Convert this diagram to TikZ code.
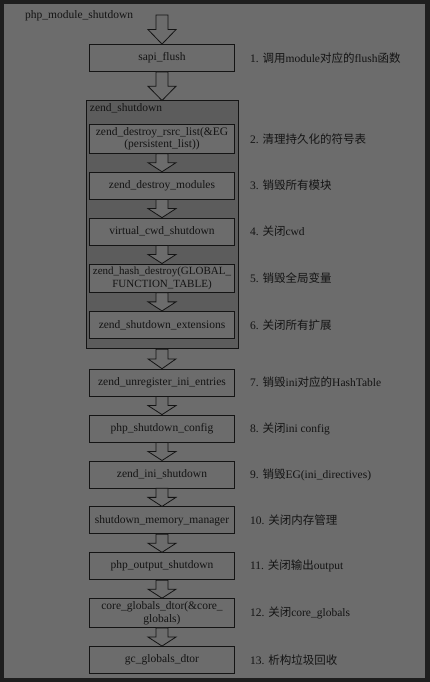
\documentclass[tikz,border=0pt]{standalone}
\usepackage{fontspec}
\setmainfont{Liberation Serif}
\newfontfamily\cjk{Noto Sans CJK SC}
\usetikzlibrary{positioning, calc, backgrounds, fit}
\definecolor{frameDark}{HTML}{1E1E1E}
\definecolor{panelGray}{HTML}{6C6C6C}
\definecolor{groupGray}{HTML}{5C5C5C}
\definecolor{inkDark}{HTML}{141414}
\tikzstyle{callbox} = [rectangle, minimum width=145pt, minimum height=27pt, inner ysep=3pt, inner xsep=1pt, align=center, draw=inkDark, line width=0.8pt, fill=panelGray, text=inkDark, font=\fontsize{11.5}{12.5}\selectfont]
\tikzstyle{note} = [anchor=west, inner sep=0pt, text=inkDark, font=\fontsize{11.5}{13}\selectfont]
\tikzstyle{group} = [rectangle, draw=inkDark, line width=0.8pt, fill=groupGray, inner sep=0pt]
\tikzstyle{hollow} = [draw=inkDark, line width=0.8pt, fill=panelGray, line join=miter]
\newcommand{\flowarrow}[2]{%
  \draw[hollow] let \p1=(#1), \p2=(#2), \p3=($(\p1)!0.5!(\p2)$) in
    (\x1-6pt,\y1) -- (\x1+6pt,\y1) -- (\x1+6pt,\y3) -- (\x1+14pt,\y3)
    -- (\x1,\y2) -- (\x1-14pt,\y3) -- (\x1-6pt,\y3) -- cycle;}

\begin{document}
\begin{tikzpicture}[x=1pt, y=-1pt, node distance=18.1pt]

% panel
\begin{scope}[on background layer]
\fill[frameDark] (0,0) rectangle (430,682);
\fill[panelGray] (4,4) rectangle (425,678);
\end{scope}

\node (title) [note] at (25,16) {php\_module\_shutdown};
\coordinate (start) at (162,15);

\node (box1) [callbox] at (162,58) {sapi\_flush};
\node (box2) [callbox, below=52pt of box1] {zend\_destroy\_rsrc\_list(\&EG\\(persistent\_list))};
\node (box3) [callbox, below=of box2] {zend\_destroy\_modules};
\node (box4) [callbox, below=of box3] {virtual\_cwd\_shutdown};
\node (box5) [callbox, below=of box4, font=\fontsize{11}{12.5}\selectfont] {zend\_hash\_destroy(GLOBAL\_\\FUNCTION\_TABLE)};
\node (box6) [callbox, below=of box5] {zend\_shutdown\_extensions};
\node (box7) [callbox, below=30pt of box6] {zend\_unregister\_ini\_entries};
\node (box8) [callbox, below=of box7] {php\_shutdown\_config};
\node (box9) [callbox, below=of box8] {zend\_ini\_shutdown};
\node (box10) [callbox, below=of box9] {shutdown\_memory\_manager};
\node (box11) [callbox, below=of box10] {php\_output\_shutdown};
\node (box12) [callbox, below=of box11] {core\_globals\_dtor(\&core\_\\globals)};
\node (box13) [callbox, below=of box12] {gc\_globals\_dtor};

% zend_shutdown group
\begin{scope}[on background layer]
\node (zendgroup) [group, fit={($(box2.north west)+(-3pt,23pt)$) ($(box6.south east)+(3pt,-10pt)$)}] {};
\end{scope}
\node (grouplabel) [note, anchor=north west] at ($(zendgroup.north west)+(4pt,-3pt)$) {zend\_shutdown};

\node (note1) [note, right=15pt of box1] {1. {\cjk 调用}module{\cjk 对应的}flush{\cjk 函数}};
\node (note2) [note, right=15pt of box2] {2. {\cjk 清理持久化的符号表}};
\node (note3) [note, right=15pt of box3] {3. {\cjk 销毁所有模块}};
\node (note4) [note, right=15pt of box4] {4. {\cjk 关闭}cwd};
\node (note5) [note, right=15pt of box5] {5. {\cjk 销毁全局变量}};
\node (note6) [note, right=15pt of box6] {6. {\cjk 关闭所有扩展}};
\node (note7) [note, right=15pt of box7] {7. {\cjk 销毁}ini{\cjk 对应的}HashTable};
\node (note8) [note, right=15pt of box8] {8. {\cjk 关闭}ini config};
\node (note9) [note, right=15pt of box9] {9. {\cjk 销毁}EG(ini\_directives)};
\node (note10) [note, right=15pt of box10] {10. {\cjk 关闭内存管理}};
\node (note11) [note, right=15pt of box11] {11. {\cjk 关闭输出}output};
\node (note12) [note, right=15pt of box12] {12. {\cjk 关闭}core\_globals};
\node (note13) [note, right=15pt of box13] {13. {\cjk 析构垃圾回收}};

\flowarrow{start}{box1.north}
\flowarrow{box1.south}{zendgroup.north}
\flowarrow{box2.south}{box3.north}
\flowarrow{box3.south}{box4.north}
\flowarrow{box4.south}{box5.north}
\flowarrow{box5.south}{box6.north}
\flowarrow{zendgroup.south}{box7.north}
\flowarrow{box7.south}{box8.north}
\flowarrow{box8.south}{box9.north}
\flowarrow{box9.south}{box10.north}
\flowarrow{box10.south}{box11.north}
\flowarrow{box11.south}{box12.north}
\flowarrow{box12.south}{box13.north}

\end{tikzpicture}
\end{document}
